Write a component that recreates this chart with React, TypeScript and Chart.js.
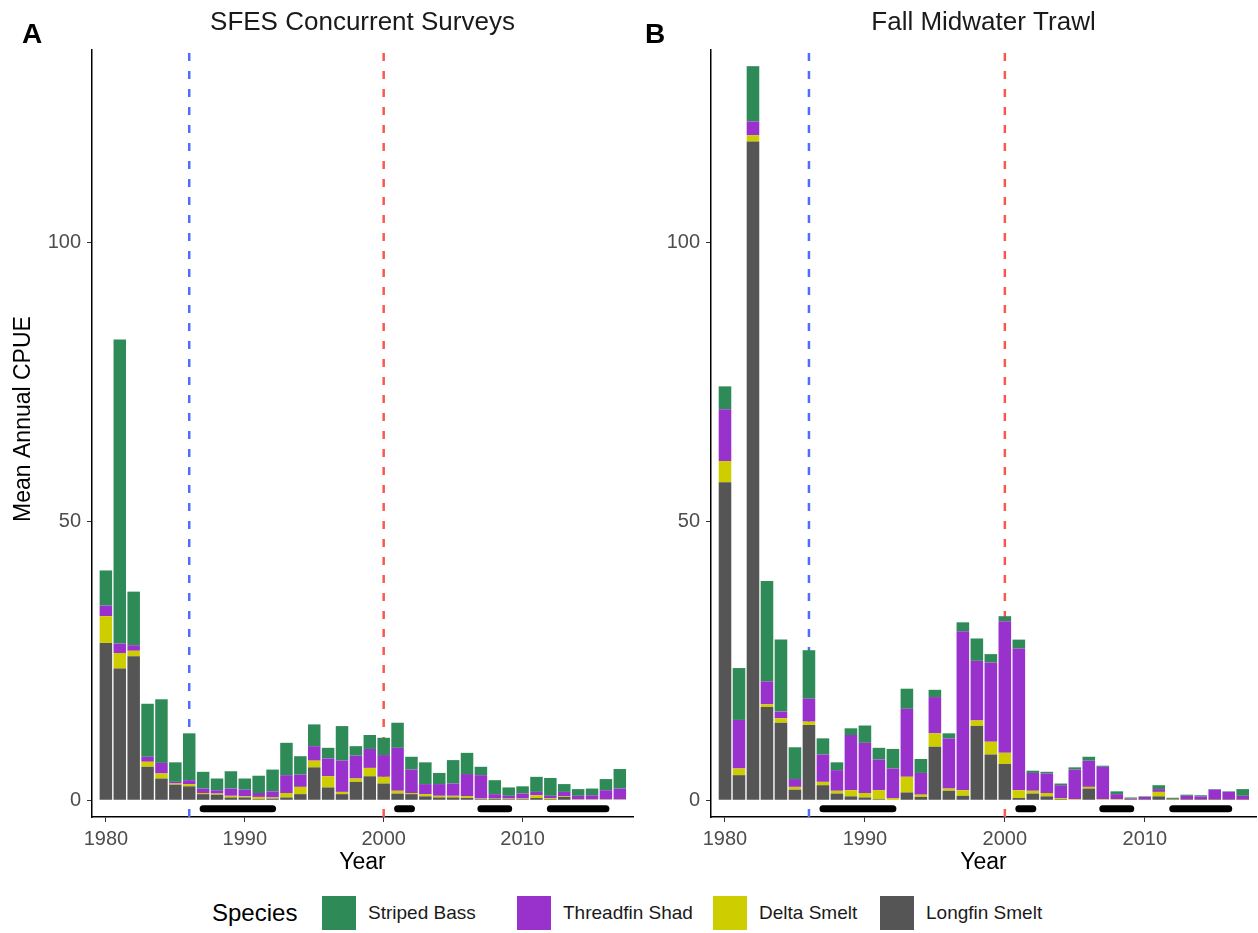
import React, { useEffect, useRef } from "react";
import { Chart, registerables } from "chart.js";

Chart.register(...registerables);

// ---------- data ----------
const YEARS = [
  1980, 1981, 1982, 1983, 1984, 1985, 1986, 1987, 1988, 1989,
  1990, 1991, 1992, 1993, 1994, 1995, 1996, 1997, 1998, 1999,
  2000, 2001, 2002, 2003, 2004, 2005, 2006, 2007, 2008, 2009,
  2010, 2011, 2012, 2013, 2014, 2015, 2016, 2017,
];

const SPECIES = ["Striped Bass", "Threadfin Shad", "Delta Smelt", "Longfin Smelt"];
const SPECIES_COLORS = ["#2E8B57", "#9932CC", "#CDCD00", "#555555"];

// Panel A: SFES Concurrent Surveys
const SFES_LONGFIN = [28.2, 23.6, 25.8, 6.0, 3.9, 2.8, 2.5, 1.1, 1.0, 0.5, 0.5, 0.2, 0.3, 0.5, 1.1, 5.9, 2.3, 1.1, 3.3, 4.3, 3.0, 1.2, 1.1, 0.7, 0.5, 0.5, 0.4, 0.2, 0.3, 0.2, 0.2, 0.4, 0.2, 0.6, 0.1, 0.1, 0.1, 0.1];
const SFES_DELTA = [4.8, 2.8, 1.0, 0.9, 0.9, 0.2, 0.4, 0.2, 0.2, 0.3, 0.2, 0.4, 0.2, 0.8, 1.3, 1.2, 2.0, 0.4, 0.6, 1.5, 1.2, 0.5, 0.2, 0.4, 0.3, 0.3, 0.3, 0.1, 0.1, 0.1, 0.1, 0.5, 0.2, 0.1, 0.05, 0.05, 0.05, 0.05];
const SFES_THREADFIN = [1.9, 1.7, 1.0, 0.9, 1.9, 0.3, 0.7, 0.8, 0.6, 1.3, 1.2, 0.7, 1.1, 3.2, 2.2, 2.6, 3.2, 5.6, 4.1, 3.4, 3.9, 7.7, 4.2, 1.8, 2.1, 2.2, 4.0, 4.2, 0.7, 0.5, 0.9, 0.6, 0.4, 0.8, 0.65, 0.75, 1.65, 1.95];
const SFES_STRIPED = [6.3, 54.5, 9.6, 9.5, 11.4, 3.5, 8.4, 3.0, 2.1, 3.1, 2.0, 3.1, 3.9, 5.8, 3.3, 3.9, 1.9, 6.2, 1.7, 2.5, 3.1, 4.5, 2.3, 3.9, 2.0, 4.2, 3.8, 1.5, 2.5, 1.5, 1.3, 2.7, 3.2, 1.4, 1.2, 1.2, 2.0, 3.5];

// Panel B: Fall Midwater Trawl
const FMWT_LONGFIN = [57.0, 4.5, 118.1, 16.7, 13.9, 1.9, 13.5, 2.7, 1.2, 0.7, 0.5, 0.2, 0.1, 1.4, 0.6, 9.6, 1.7, 0.8, 13.3, 8.2, 6.5, 0.4, 1.2, 0.7, 0.2, 0.1, 2.1, 0.1, 0.1, 0.05, 0.05, 0.7, 0.05, 0.05, 0.05, 0.05, 0.05, 0.05];
const FMWT_DELTA = [3.8, 1.2, 1.1, 0.5, 0.8, 0.5, 0.6, 0.6, 0.5, 1.1, 0.8, 1.6, 0.3, 2.8, 0.4, 2.4, 0.4, 1.0, 1.0, 2.3, 2.0, 1.4, 0.5, 0.6, 0.2, 0.1, 0.3, 0.1, 0.1, 0.05, 0.05, 0.8, 0.1, 0.05, 0.05, 0.05, 0.05, 0.05];
const FMWT_THREADFIN = [9.3, 8.7, 2.5, 4.1, 1.2, 1.4, 4.1, 4.9, 3.7, 9.9, 9.0, 5.5, 5.3, 12.2, 3.9, 6.5, 9.0, 28.5, 10.7, 14.2, 23.6, 25.4, 3.2, 3.5, 2.3, 5.3, 4.7, 5.8, 0.9, 0.2, 0.5, 0.5, 0.1, 0.7, 0.6, 1.8, 1.4, 0.7];
const FMWT_STRIPED = [4.1, 9.3, 9.9, 18.0, 12.9, 5.7, 8.7, 2.9, 1.4, 1.2, 3.1, 2.1, 3.5, 3.6, 2.5, 1.3, 0.9, 1.6, 4.0, 1.5, 0.9, 1.6, 0.4, 0.3, 0.3, 0.4, 0.7, 0.2, 0.5, 0.2, 0.1, 0.7, 0.2, 0.2, 0.2, 0.1, 0.1, 1.2];

// reference lines (years) and drought periods
const REF_YEARS = [1986, 2000];
const REF_COLORS = ["#4F6EF7", "#F8594B"];
const DROUGHTS = [
  [1987, 1992],
  [2001, 2002],
  [2007, 2009],
  [2012, 2016],
];
const DROUGHT_Y = -1.5;

const X_TICKS = [1980, 1990, 2000, 2010];
const Y_TICKS = [0, 50, 100];
const X_MIN = 1979.0;
const X_MAX = 2017.95;
const Y_MIN = -3;
const Y_MAX = 134.5;

const FONT = "'Liberation Sans', Arial, Helvetica, sans-serif";

// layout constants
const CANVAS_H = 885;
const CHART_TOP = 50;
const CHART_BOTTOM = 817;
const LEGEND_SWATCH_X = [322, 517, 713, 880];

const panelTextPlugin = {
  id: "panelText",
  afterDraw(chart: any, _args: any, opts: any) {
    const { ctx, chartArea } = chart;
    ctx.save();
    ctx.fillStyle = "#000";
    ctx.textBaseline = "alphabetic";
    ctx.font = `bold 28px ${FONT}`;
    ctx.textAlign = "left";
    ctx.fillText(opts.letter, opts.letterX, 43);
    ctx.font = `26px ${FONT}`;
    ctx.fillStyle = "#1A1A1A";
    ctx.textAlign = "center";
    ctx.fillText(opts.title, (chartArea.left + chartArea.right) / 2, 30);
    if (opts.yTitle) {
      ctx.save();
      ctx.translate(24, 419);
      ctx.rotate(-Math.PI / 2);
      ctx.font = `23px ${FONT}`;
      ctx.fillStyle = "#000";
      ctx.textAlign = "center";
      ctx.textBaseline = "middle";
      ctx.fillText(opts.yTitle, 0, 0);
      ctx.restore();
    }
    ctx.restore();
  },
};

type PanelProps = {
  letter: string;
  title: string;
  longfin: number[];
  delta: number[];
  threadfin: number[];
  striped: number[];
  left: number;
  width: number;
  yAxisWidth: number;
  rightPad: number;
  letterX: number;
  yTitle: string | null;
};

function Panel(p: PanelProps) {
  const ref = useRef<HTMLCanvasElement | null>(null);

  useEffect(() => {
    if (!ref.current) return;
    const series = [
      { label: SPECIES[3], data: p.longfin, color: SPECIES_COLORS[3] },
      { label: SPECIES[2], data: p.delta, color: SPECIES_COLORS[2] },
      { label: SPECIES[1], data: p.threadfin, color: SPECIES_COLORS[1] },
      { label: SPECIES[0], data: p.striped, color: SPECIES_COLORS[0] },
    ];
    const barSets = series.map((s) => ({
      type: "bar" as const,
      label: s.label,
      data: YEARS.map((yr, i) => ({ x: yr, y: s.data[i] })),
      backgroundColor: s.color,
      borderWidth: 0,
      barPercentage: 0.9,
      categoryPercentage: 1.0,
      grouped: false,
      order: 1,
    }));
    const refSets = REF_YEARS.map((yr, i) => ({
      type: "line" as const,
      label: "ref" + yr,
      data: [
        { x: yr, y: Y_MIN },
        { x: yr, y: Y_MAX },
      ],
      borderColor: REF_COLORS[i],
      borderWidth: 2.5,
      borderDash: [8, 10],
      pointRadius: 0,
      stack: "ref" + i,
      order: 5,
    }));
    const droughtSets = DROUGHTS.map((d, i) => ({
      type: "line" as const,
      label: "drought" + i,
      data: [
        { x: d[0], y: DROUGHT_Y },
        { x: d[1], y: DROUGHT_Y },
      ],
      borderColor: "#000000",
      borderWidth: 7,
      borderCapStyle: "round" as const,
      pointRadius: 0,
      stack: "drought" + i,
      order: 0,
    }));

    const chart = new Chart(ref.current, {
      type: "bar",
      data: { datasets: [...barSets, ...refSets, ...droughtSets] as any },
      plugins: [panelTextPlugin as any],
      options: {
        responsive: false,
        animation: false,
        layout: { padding: { top: CHART_TOP, right: p.rightPad, left: 0, bottom: 0 } },
        plugins: {
          legend: { display: false },
          tooltip: { enabled: false },
          panelText: { letter: p.letter, title: p.title, letterX: p.letterX, yTitle: p.yTitle },
        } as any,
        scales: {
          x: {
            type: "linear",
            min: X_MIN,
            max: X_MAX,
            offset: false,
            afterBuildTicks: (axis: any) => {
              axis.ticks = X_TICKS.map((v) => ({ value: v }));
            },
            afterFit: (scale: any) => {
              scale.height = CANVAS_H - CHART_BOTTOM;
            },
            ticks: {
              autoSkip: false,
              maxRotation: 0,
              padding: 5,
              color: "#4D4D4D",
              font: { size: 20, family: FONT },
              callback: (v: any) => String(v),
            },
            grid: { offset: false, drawOnChartArea: false, drawTicks: true, tickLength: 5, color: "#333333" },
            border: { display: true, color: "#000000", width: 1.5 },
            title: {
              display: true,
              text: "Year",
              color: "#000000",
              font: { size: 23, family: FONT },
              padding: { top: 0, bottom: 9 },
            },
          },
          y: {
            type: "linear",
            min: Y_MIN,
            max: Y_MAX,
            stacked: true,
            afterBuildTicks: (axis: any) => {
              axis.ticks = Y_TICKS.map((v) => ({ value: v }));
            },
            afterFit: (scale: any) => {
              scale.width = p.yAxisWidth;
            },
            ticks: {
              padding: 6,
              color: "#4D4D4D",
              font: { size: 20, family: FONT },
              callback: (v: any) => String(v),
            },
            grid: { drawOnChartArea: false, drawTicks: true, tickLength: 5, color: "#333333" },
            border: { display: true, color: "#000000", width: 1.5 },
            title: { display: false },
          },
        },
      } as any,
    });
    return () => chart.destroy();
  }, []);

  return (
    <canvas
      ref={ref}
      width={p.width}
      height={CANVAS_H}
      style={{ position: "absolute", left: p.left, top: 0, width: p.width, height: CANVAS_H }}
    />
  );
}

export default function App() {
  return (
    <div
      style={{
        position: "absolute",
        left: 0,
        top: 0,
        width: 1258,
        height: 933,
        background: "#FFFFFF",
        overflow: "hidden",
        fontFamily: FONT,
      }}
    >
      <Panel
        letter="A"
        title="SFES Concurrent Surveys"
        longfin={SFES_LONGFIN}
        delta={SFES_DELTA}
        threadfin={SFES_THREADFIN}
        striped={SFES_STRIPED}
        left={0}
        width={636}
        yAxisWidth={92}
        rightPad={3}
        letterX={22}
        yTitle="Mean Annual CPUE"
      />
      <Panel
        letter="B"
        title="Fall Midwater Trawl"
        longfin={FMWT_LONGFIN}
        delta={FMWT_DELTA}
        threadfin={FMWT_THREADFIN}
        striped={FMWT_STRIPED}
        left={636}
        width={622}
        yAxisWidth={75}
        rightPad={2}
        letterX={9}
        yTitle={null}
      />
      <div style={{ position: "absolute", left: 0, top: 895, width: 1258, height: 35 }}>
        <span
          style={{
            position: "absolute",
            left: 212,
            top: 0,
            height: 35,
            lineHeight: "35px",
            fontSize: 24,
            color: "#000",
          }}
        >
          Species
        </span>
        {SPECIES.map((name, i) => (
          <span
            key={name}
            style={{
              position: "absolute",
              left: LEGEND_SWATCH_X[i],
              top: 0,
              height: 35,
              display: "flex",
              alignItems: "center",
              whiteSpace: "nowrap",
            }}
          >
            <span
              style={{
                display: "inline-block",
                width: 34,
                height: 34,
                background: SPECIES_COLORS[i],
                marginRight: 12,
              }}
            />
            <span style={{ fontSize: 19, color: "#1A1A1A" }}>{name}</span>
          </span>
        ))}
      </div>
    </div>
  );
}
